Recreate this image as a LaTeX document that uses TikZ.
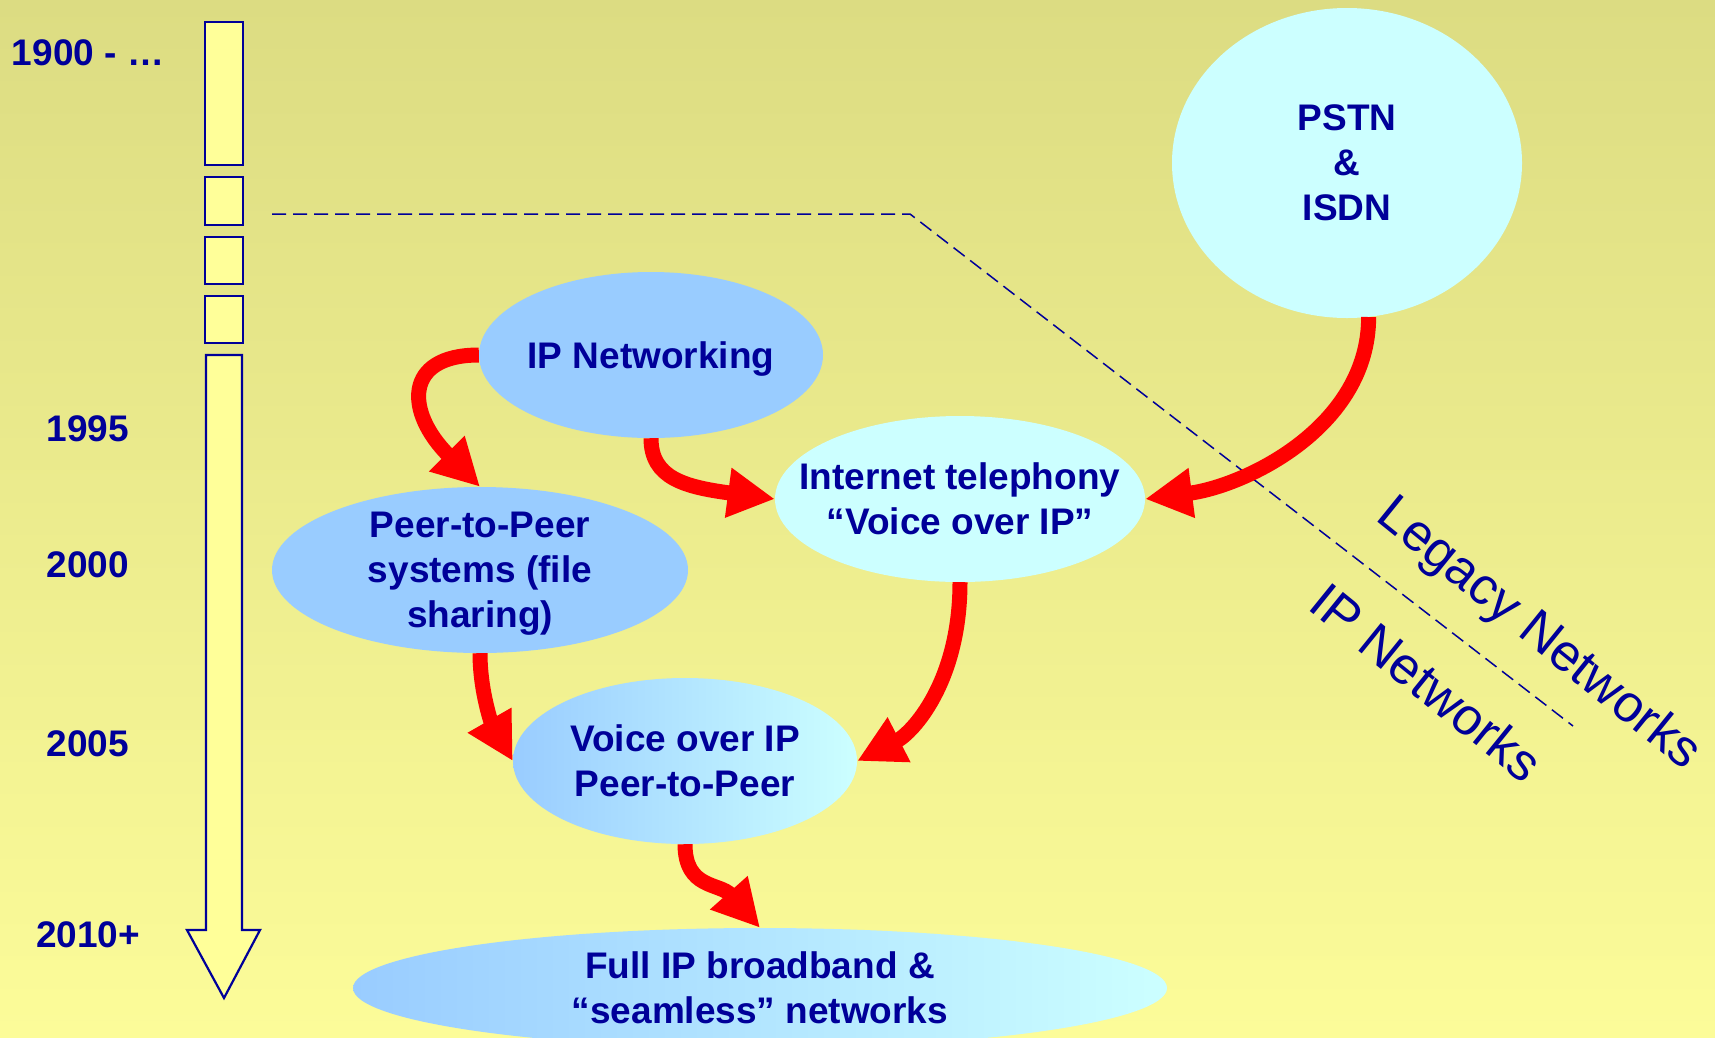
\documentclass[tikz,border=0pt]{standalone}
\usepackage{fontspec}
\setmainfont{Liberation Sans}
\usetikzlibrary{shapes.geometric,arrows.meta}
\definecolor{navy}{HTML}{000099}
\definecolor{skyblue}{HTML}{99CCFF}
\definecolor{paleblue}{HTML}{CCFFFF}
\definecolor{bgtop}{HTML}{DCDC82}
\definecolor{bgbottom}{HTML}{FCFC99}
\definecolor{barfill}{HTML}{FFFF99}

\begin{document}
\begin{tikzpicture}[x=1pt,y=-1pt,
		bubble/.style={ellipse,inner xsep=-45pt,inner ysep=-20pt,text=navy,align=center,font=\bfseries\fontsize{37}{45}\selectfont},
		year/.style={text=navy,font=\bfseries\fontsize{37}{45}\selectfont},
		flow/.style={red,line width=15pt,-{Triangle[length=47pt,width=47pt]}},
		bar/.style={draw=navy,line width=2.2pt,fill=barfill}]
		\useasboundingbox (0,0) rectangle (1715,1037);
		\clip (0,0) rectangle (1715,1037);
		\shade[top color=bgtop,bottom color=bgbottom] (0,0) rectangle (1715,1037);

		% time line
		\foreach \ya/\yb in {22/165,177/225,237/284,296/343}
			\draw[bar] (205,\ya) rectangle (243,\yb);
		\draw[bar] (206,355) -- (242,355) -- (242,930) -- (260,930) -- (224,998) -- (187,930) -- (206,930) -- cycle;
		\node[year] (y1900) at (88,53) {1900 - …};
		\node[year] (y1995) at (88,429) {1995};
		\node[year] (y2000) at (88,565) {2000};
		\node[year] (y2005) at (88,744) {2005};
		\node[year] (y2010) at (88,935) {2010+};

		% legacy / IP border
		\draw[navy,line width=1.5pt,dash pattern=on 14pt off 7pt] (272,214) -- (910,214) -- (1573,726);
		\node[text=navy,font=\fontsize{52}{60}\selectfont,rotate=-39] (legacy) at (1538,635) {Legacy Networks};
		\node[text=navy,font=\fontsize{52}{60}\selectfont,rotate=-39] (ipnets) at (1427,682) {IP Networks};

		\node[bubble,fill=paleblue,minimum width=350,minimum height=310] (pstn) at (1347,163) {PSTN\\\&\\ISDN};
		\node[bubble,fill=skyblue,minimum width=344,minimum height=166,text depth=0pt] (ipn) at (651,355) {IP Networking};
		\node[bubble,fill=paleblue,minimum width=370,minimum height=166] (itel) at (960,499) {Internet telephony\\“Voice over IP”};
		\node[bubble,fill=skyblue,minimum width=416,minimum height=166,text depth=0pt] (p2p) at (480,570) {Peer-to-Peer\\systems (file\\sharing)};
		\node[bubble,left color=skyblue,right color=paleblue,minimum width=344,minimum height=166] (vop) at (685,761) {Voice over IP\\Peer-to-Peer};
		\node[bubble,left color=skyblue,right color=paleblue,minimum width=814,minimum height=120] (fip) at (760,988) {Full IP broadband \&\\“seamless” networks};

		\draw[flow] (ipn.west) .. controls +(-75,0) and +(-75,-75) .. (p2p.north);
		\draw[flow] (ipn.south) .. controls +(0,40) and +(-90,-12) .. (itel.west);
		\draw[flow] (pstn.-82) .. controls +(0,110) and +(100,-13) .. (itel.east);
		\draw[flow] (itel.south) .. controls +(0,100) and +(55,-28) .. (vop.east);
		\draw[flow] (p2p.south) .. controls +(0,40) and +(-20,-35) .. (vop.west);
		\draw[flow] (vop.south) .. controls +(0,45) and +(-40,-45) .. (fip.north);
\end{tikzpicture}
\end{document}
